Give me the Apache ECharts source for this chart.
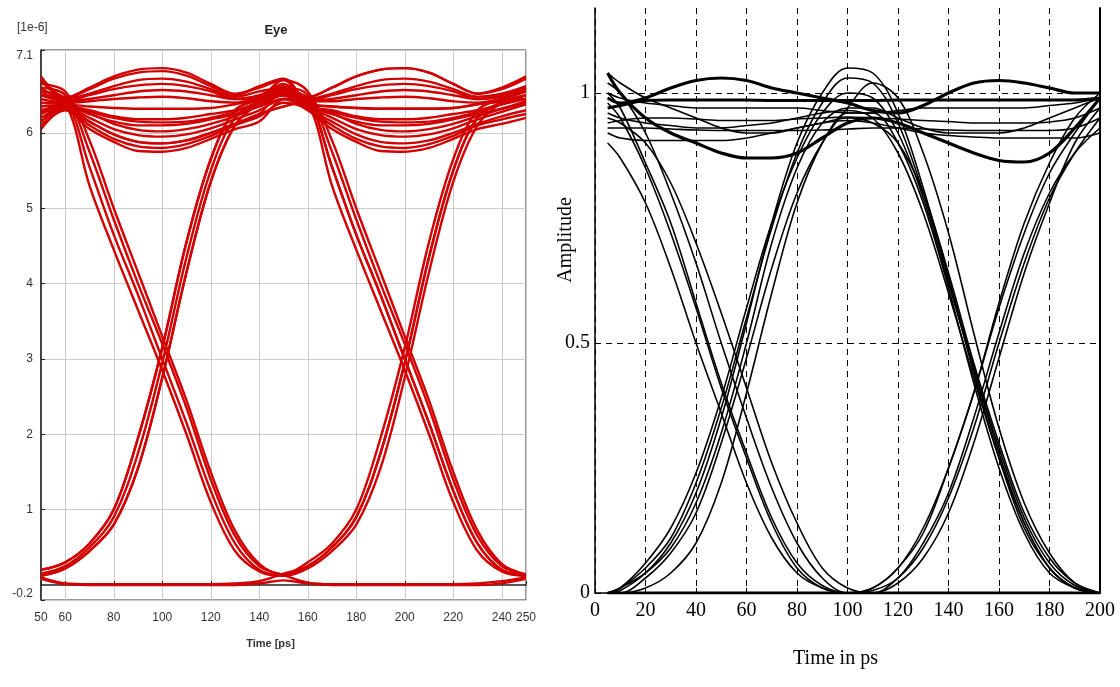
<!DOCTYPE html>
<html>
<head>
<meta charset="utf-8">
<script src="https://cdn.jsdelivr.net/npm/echarts@6/dist/echarts.min.js"></script>
<style>
  html, body { margin: 0; padding: 0; background: #fff; }
  #chart { width: 1120px; height: 687px; }
</style>
</head>
<body>
<div id="chart"></div>
<script>
// ---------- LEFT PANEL (red eye diagram, units 1e-6) ----------
const leftTime = [50,60,70,80,90,100,110,120,130,140,150,160,170,180,190,200,210,220,230,240,250];
const leftXTicks = [50,60,80,100,120,140,160,180,200,220,240,250];
const leftYTicks = [-0.2,1,2,3,4,5,6,7.1];

const redTrace01 = [6.5,6.4,5.3,4.45,3.65,2.85,2.0,1.1,0.45,0.18,0.12,0.25,0.5,0.9,1.75,2.95,4.35,5.5,6.2,6.4,6.45];
const redTrace02 = [0.15,0.25,0.5,0.9,1.75,2.95,4.35,5.5,6.2,6.4,6.5,6.4,5.3,4.45,3.65,2.85,2.0,1.1,0.45,0.18,0.12];
const redTrace03 = [6.55,6.45,5.55,4.65,3.85,3.0,2.15,1.25,0.55,0.2,0.12,0.22,0.45,0.8,1.55,2.75,4.15,5.35,6.1,6.4,6.5];
const redTrace04 = [0.12,0.22,0.45,0.8,1.55,2.75,4.15,5.35,6.1,6.4,6.55,6.45,5.55,4.65,3.85,3.0,2.15,1.25,0.55,0.2,0.12];
const redTrace05 = [6.6,6.5,5.75,4.85,4.0,3.2,2.35,1.4,0.65,0.25,0.13,0.03,0.01,0.01,0.01,0.01,0.01,0.01,0.02,0.05,0.1];
const redTrace06 = [0.2,0.3,0.55,1.0,1.95,3.15,4.55,5.65,6.3,6.45,6.6,6.5,5.75,4.85,4.0,3.2,2.35,1.4,0.65,0.25,0.13];
const redTrace07 = [6.75,6.47,6.6,6.75,6.84,6.86,6.8,6.65,6.52,6.6,6.7,6.55,5.9,5.0,4.15,3.3,2.45,1.5,0.72,0.28,0.14];
const redTrace08 = [6.65,6.55,5.9,5.0,4.15,3.3,2.45,1.5,0.72,0.28,0.14,0.3,0.55,1.0,1.95,3.15,4.55,5.65,6.3,6.45,6.6];
const redTrace09 = [0.1,0.02,0.01,0.01,0.01,0.01,0.01,0.01,0.02,0.05,0.15,0.25,0.5,0.9,1.75,2.95,4.35,5.5,6.2,6.4,6.45];
const redTrace10 = [0.12,0.22,0.45,0.8,1.55,2.75,4.15,5.35,6.1,6.4,6.65,6.47,6.6,6.75,6.84,6.86,6.8,6.65,6.52,6.58,6.72];
const redTrace11 = [6.6,6.45,6.52,6.62,6.7,6.72,6.68,6.58,6.48,6.55,6.6,6.33,6.15,5.98,5.88,5.86,5.9,6.0,6.12,6.22,6.3];
const redTrace12 = [6.5,6.42,6.45,6.5,6.55,6.57,6.55,6.5,6.45,6.5,6.62,6.45,6.52,6.62,6.7,6.72,6.68,6.58,6.48,6.52,6.62];
const redTrace13 = [6.4,6.38,6.35,6.33,6.32,6.32,6.32,6.33,6.38,6.45,6.52,6.38,6.35,6.33,6.32,6.32,6.32,6.33,6.38,6.42,6.5];
const redTrace14 = [6.25,6.35,6.25,6.15,6.1,6.1,6.12,6.18,6.25,6.35,6.45,6.3,6.05,5.88,5.76,5.75,5.8,5.92,6.05,6.12,6.2];
const redTrace15 = [6.15,6.33,6.15,5.98,5.88,5.86,5.9,6.0,6.12,6.25,6.35,6.42,6.45,6.5,6.55,6.57,6.55,6.5,6.45,6.48,6.58];
const redTrace16 = [6.1,6.3,6.05,5.88,5.76,5.75,5.8,5.92,6.05,6.15,6.45,6.47,6.6,6.75,6.84,6.86,6.8,6.65,6.52,6.6,6.75];
const redTrace17 = [6.3,6.36,6.3,6.22,6.18,6.18,6.2,6.25,6.3,6.4,6.5,6.35,6.25,6.15,6.1,6.1,6.12,6.18,6.25,6.32,6.4];
const redTrace18 = [0.08,0.01,0.0,0.0,0.0,0.0,0.0,0.0,0.0,0.02,0.06,0.02,0.0,0.0,0.0,0.0,0.0,0.0,0.0,0.02,0.08];
const redTrace19 = [0.2,0.3,0.55,1.0,1.95,3.15,4.55,5.65,6.3,6.45,6.7,6.36,6.3,6.22,6.18,6.18,6.2,6.25,6.3,6.38,6.45];
const redTrace20 = [6.7,6.46,6.58,6.72,6.8,6.82,6.76,6.62,6.5,6.62,6.72,6.4,6.35,6.33,6.32,6.32,6.32,6.33,6.38,6.45,6.55];
const redTrace21 = [6.15,6.33,6.15,5.98,5.88,5.86,5.9,6.0,6.12,6.25,6.55,6.45,5.55,4.65,3.85,3.0,2.15,1.25,0.55,0.2,0.12];
const redTrace22 = [6.2,6.34,6.2,6.05,5.97,5.95,5.98,6.06,6.18,6.3,6.45,6.34,6.2,6.05,5.97,5.95,5.98,6.06,6.18,6.28,6.38];
const redTrace23 = [6.45,6.4,6.42,6.45,6.47,6.48,6.46,6.42,6.4,6.48,6.6,6.42,6.42,6.45,6.47,6.48,6.46,6.42,6.4,6.45,6.55];
const redTrace24 = [6.35,6.37,6.28,6.2,6.15,6.14,6.15,6.2,6.28,6.42,6.58,6.37,6.28,6.2,6.15,6.14,6.15,6.2,6.28,6.38,6.5];
const redTrace25 = [6.55,6.43,6.5,6.58,6.63,6.65,6.62,6.55,6.45,6.45,6.55,6.43,6.5,6.58,6.63,6.65,6.62,6.55,6.45,6.5,6.6];
const redTrace26 = [6.05,6.32,6.1,5.92,5.82,5.8,5.85,5.96,6.1,6.22,6.4,6.32,6.1,5.92,5.82,5.8,5.85,5.96,6.1,6.18,6.25];
const redTrace27 = [6.28,6.36,6.26,6.12,6.04,6.02,6.05,6.12,6.22,6.36,6.5,6.36,6.26,6.12,6.04,6.02,6.05,6.12,6.22,6.32,6.42];

const redTraces = [redTrace01,redTrace02,redTrace03,redTrace04,redTrace05,redTrace06,redTrace07,
  redTrace08,redTrace09,redTrace10,redTrace11,redTrace12,redTrace13,redTrace14,redTrace15,
  redTrace16,redTrace17,redTrace18,redTrace19,redTrace20,redTrace21,redTrace22,redTrace23,
  redTrace24,redTrace25,redTrace26,redTrace27];

// ---------- RIGHT PANEL (black eye diagram) ----------
const rightTime = [5,10,20,30,40,50,60,70,80,90,100,110,120,130,140,150,160,170,180,190,200];
const rightYTicks = [0,0.5,1];

const blackPulse1 = [0.0,0.005,0.04,0.1,0.2,0.35,0.54,0.74,0.9,1.0,1.05,1.04,0.96,0.81,0.63,0.44,0.27,0.13,0.05,0.01,0.0];
const blackPulse2 = [0.0,0.01,0.06,0.13,0.24,0.39,0.57,0.74,0.87,0.96,1.0,0.99,0.92,0.79,0.62,0.45,0.29,0.15,0.06,0.015,0.0];
const blackPulse3 = [0.0,0.0,0.03,0.08,0.16,0.3,0.47,0.65,0.8,0.9,0.96,0.96,0.9,0.78,0.61,0.42,0.25,0.12,0.04,0.01,0.0];
const blackPulse4 = [0.0,0.0,0.01,0.04,0.1,0.22,0.4,0.6,0.78,0.9,0.97,1.02,0.99,0.88,0.72,0.52,0.33,0.18,0.08,0.02,0.0];
const blackPulse5 = [0.0,0.01,0.05,0.11,0.22,0.37,0.55,0.73,0.88,0.98,1.03,1.02,0.94,0.8,0.63,0.45,0.28,0.14,0.05,0.01,0.0];
const blackDip1 = [1.0,0.97,0.86,0.74,0.58,0.42,0.28,0.15,0.06,0.015,0.0,0.005,0.03,0.1,0.2,0.35,0.52,0.68,0.8,0.88,0.93];
const blackDip2 = [1.02,1.0,0.92,0.8,0.66,0.5,0.35,0.21,0.1,0.03,0.0,0.0,0.02,0.07,0.16,0.3,0.47,0.64,0.78,0.9,0.97];
const blackDip3 = [0.95,0.94,0.9,0.82,0.7,0.56,0.41,0.26,0.14,0.05,0.01,0.0,0.0,0.0,0.0,0.0,0.0,0.0,0.0,0.0,0.0];
const blackDip4 = [0.9,0.87,0.78,0.65,0.5,0.36,0.22,0.11,0.04,0.01,0.0,0.01,0.05,0.13,0.25,0.4,0.57,0.72,0.84,0.92,0.99];
const blackDip5 = [0.98,0.95,0.85,0.72,0.57,0.41,0.27,0.14,0.05,0.01,0.0,0.0,0.03,0.09,0.19,0.33,0.5,0.66,0.79,0.88,0.95];
const blackHighFall = [1.04,1.02,0.99,0.97,0.95,0.93,0.92,0.92,0.93,0.94,0.95,0.94,0.9,0.8,0.64,0.46,0.3,0.16,0.07,0.02,0.0];
const blackHighFall2 = [0.96,0.95,0.94,0.935,0.93,0.93,0.935,0.94,0.95,0.96,0.965,0.95,0.88,0.76,0.6,0.43,0.27,0.14,0.05,0.01,0.0];
const blackLowRise = [0.0,0.0,0.0,0.0,0.0,0.0,0.0,0.0,0.0,0.0,0.0,0.01,0.05,0.12,0.25,0.4,0.58,0.74,0.86,0.95,1.0];
const blackRiseHigh = [0.0,0.01,0.04,0.09,0.18,0.32,0.5,0.7,0.85,0.94,0.97,0.97,0.95,0.93,0.92,0.92,0.92,0.93,0.95,0.97,0.99];
const blackHighArc = [0.99,0.98,0.99,1.01,1.025,1.03,1.025,1.01,1.0,0.99,0.98,0.965,0.96,0.975,1.0,1.02,1.025,1.02,1.01,1.0,1.0];
const blackLowArc = [1.04,1.0,0.95,0.92,0.9,0.88,0.87,0.87,0.88,0.91,0.94,0.95,0.94,0.92,0.9,0.88,0.865,0.862,0.88,0.93,0.99];
const blackFlat1 = [0.97,0.975,0.985,0.986,0.986,0.986,0.986,0.985,0.985,0.985,0.985,0.985,0.986,0.986,0.986,0.986,0.986,0.986,0.986,0.986,0.99];
const blackFlat2 = [0.93,0.93,0.93,0.928,0.926,0.925,0.925,0.925,0.925,0.926,0.928,0.93,0.93,0.928,0.926,0.925,0.925,0.925,0.925,0.93,0.95];
const blackFlat3 = [0.92,0.91,0.905,0.905,0.905,0.905,0.91,0.92,0.93,0.94,0.945,0.94,0.93,0.92,0.915,0.912,0.91,0.91,0.91,0.91,0.92];
const blackFlat4 = [1.0,0.99,0.98,0.975,0.97,0.97,0.97,0.97,0.97,0.965,0.96,0.96,0.965,0.97,0.97,0.97,0.97,0.97,0.975,0.98,0.99];
const blackFlat5 = [0.94,0.945,0.95,0.95,0.948,0.945,0.945,0.945,0.948,0.95,0.952,0.95,0.948,0.945,0.943,0.94,0.94,0.94,0.942,0.95,0.97];
const blackLow = [0,0,0,0,0,0,0,0,0,0,0,0,0,0,0,0,0,0,0,0,0];

const blackThin = [blackPulse1,blackPulse2,blackPulse3,blackPulse4,blackPulse5,blackDip1,blackDip2,blackDip3,
  blackDip4,blackDip5,blackHighFall,blackHighFall2,blackLowRise,blackRiseHigh,blackFlat2,blackFlat3,blackFlat4,blackFlat5];
const blackThick = [blackHighArc,blackLowArc,blackFlat1,blackLow];

// ---------- build ----------
function lineSeries(time, values, xi, color, width) {
  return {
    type: 'line', xAxisIndex: xi, yAxisIndex: xi,
    data: time.map((t, i) => [t, values[i]]),
    smooth: 0.35, showSymbol: false, silent: true,
    lineStyle: { color: color, width: width },
    z: 3
  };
}

const series = [];
redTraces.forEach(v => series.push(lineSeries(leftTime, v, 0, '#d20000', 2.4)));
blackThin.forEach(v => series.push(lineSeries(rightTime, v, 1, '#000', 1.6)));
blackThick.forEach(v => series.push(lineSeries(rightTime, v, 1, '#000', 3.2)));

const serif = '"Liberation Serif", "DejaVu Serif", serif';
const sans = '"Liberation Sans", Arial, sans-serif';

const option = {
  animation: false,
  backgroundColor: '#fff',
  grid: [
    { left: 41, top: 50, width: 485, height: 550, show: true, borderColor: '#333', borderWidth: 1, backgroundColor: '#fff' },
    { left: 595, top: 8, width: 505, height: 585 }
  ],
  xAxis: [
    {
      gridIndex: 0, type: 'value', min: 50, max: 250,
      name: 'Time [ps]', nameLocation: 'middle', nameGap: 38,
      nameTextStyle: { fontFamily: sans, fontSize: 11, fontWeight: 'bold', color: '#333', padding: [0, 26, 0, 0] },
      axisLine: { lineStyle: { color: '#222', width: 1.5 } },
      axisTick: { inside: true, length: 4, customValues: leftXTicks, lineStyle: { color: '#222' } },
      axisLabel: { customValues: leftXTicks, fontFamily: sans, fontSize: 12, color: '#333', margin: 12 },
      splitLine: { show: true, lineStyle: { color: '#cccccc', width: 1 } }
    },
    {
      gridIndex: 1, type: 'value', min: 0, max: 200, interval: 20,
      name: 'Time in ps', nameLocation: 'middle', nameGap: 56,
      nameTextStyle: { fontFamily: serif, fontSize: 20, color: '#000', padding: [0, 24, 0, 0] },
      axisLine: { lineStyle: { color: '#000', width: 1.5 } },
      axisTick: { inside: true, length: 5, lineStyle: { color: '#000' } },
      axisLabel: { fontFamily: serif, fontSize: 20, color: '#000', margin: 8 },
      splitLine: { show: true, lineStyle: { color: '#000', width: 1, type: [6, 5] } }
    }
  ],
  yAxis: [
    {
      gridIndex: 0, type: 'value', min: -0.2, max: 7.1,
      axisLine: { lineStyle: { color: '#222', width: 1.5 } },
      axisTick: { inside: true, length: 4, customValues: leftYTicks, lineStyle: { color: '#222' } },
      axisLabel: { customValues: leftYTicks, fontFamily: sans, fontSize: 12, color: '#333', margin: 8,
        verticalAlignMaxLabel: 'top', verticalAlignMinLabel: 'bottom' },
      splitLine: { show: true, lineStyle: { color: '#cccccc', width: 1 } }
    },
    {
      gridIndex: 1, type: 'value', min: 0, max: 1.17,
      axisLine: { show: true, lineStyle: { color: '#000', width: 1.5 } },
      axisTick: { show: true, inside: true, length: 6, customValues: rightYTicks, lineStyle: { color: '#000' } },
      axisLabel: { customValues: rightYTicks, fontFamily: serif, fontSize: 20, color: '#000', margin: 5 },
      splitLine: { show: true, lineStyle: { color: '#000', width: 1, type: [6, 5] } }
    },
    {
      gridIndex: 1, type: 'value', min: 0, max: 1.17, position: 'right',
      axisLine: { show: true, lineStyle: { color: '#000', width: 2 } },
      axisTick: { show: false }, axisLabel: { show: false }, splitLine: { show: false }
    }
  ],
  graphic: [
    { type: 'text', x: 17, y: 28, style: { text: '[1e-6]', font: '12px ' + sans, fill: '#333', textVerticalAlign: 'middle' } },
    { type: 'text', x: 276, y: 30, style: { text: 'Eye', font: 'bold 13px ' + sans, fill: '#222', textAlign: 'center', textVerticalAlign: 'middle' } },
    { type: 'text', x: 566, y: 240, rotation: Math.PI / 2, style: { text: 'Amplitude', font: '20px ' + serif, fill: '#000', textAlign: 'center', textVerticalAlign: 'middle' } }
  ],
  series: series
};

const chart = echarts.init(document.getElementById('chart'), null, { renderer: 'canvas' });
chart.setOption(option);
</script>
</body>
</html>
